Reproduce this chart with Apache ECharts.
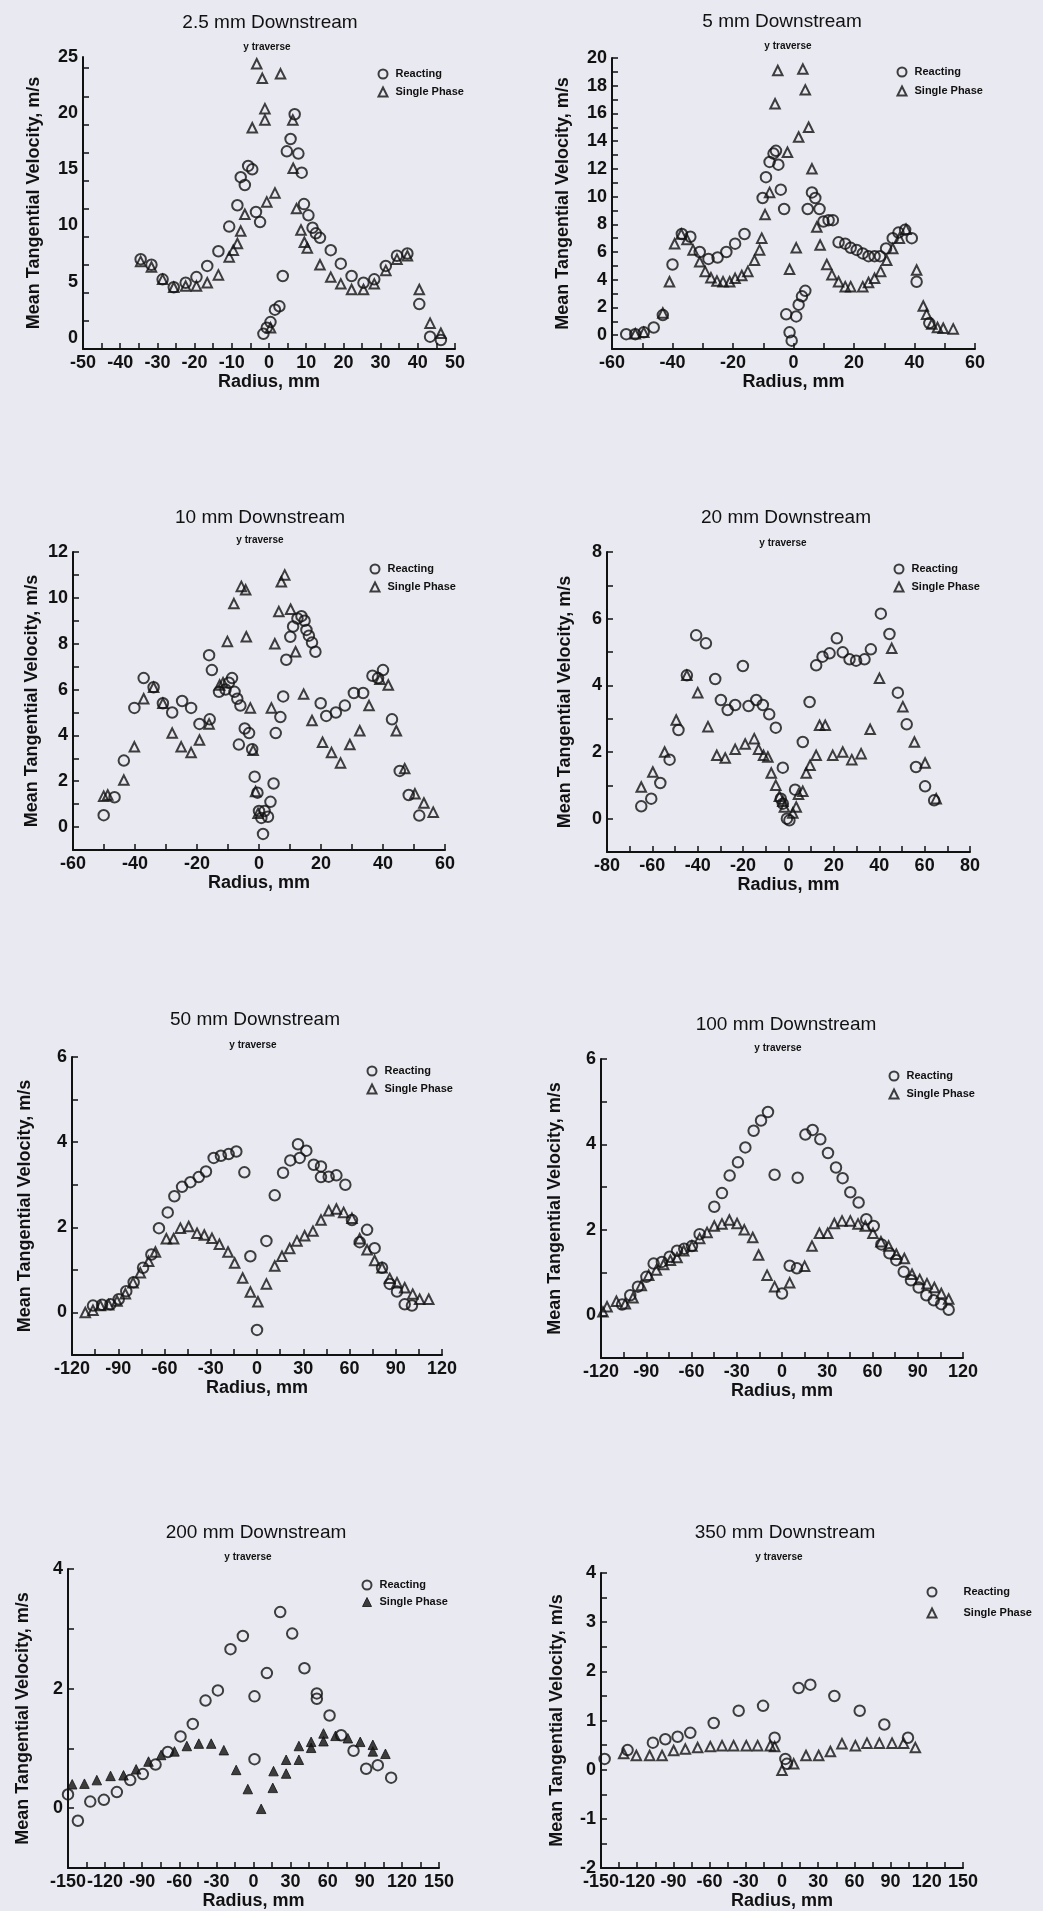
<!DOCTYPE html>
<html>
<head>
<meta charset="utf-8">
<title>Mean Tangential Velocity profiles</title>
<script src="https://cdn.jsdelivr.net/npm/echarts@6/dist/echarts.min.js"></script>
<style>
  html, body { margin: 0; padding: 0; background: #e9e9f1; }
  #chart { width: 1043px; height: 1911px; }
</style>
</head>
<body>
<div id="chart"></div>
<script>
// ---- values: [radius mm, velocity m/s] ----
var reacting_2_5 = [[-34.5,7.0],[-31.6,6.5],[-28.6,5.2],[-25.6,4.5],[-22.4,4.9],[-19.5,5.4],[-16.6,6.4],[-13.6,7.7],[-10.7,9.9],[-8.5,11.8],[-7.6,14.3],[-6.5,13.6],[-5.6,15.3],[-4.5,15.0],[-3.5,11.2],[-2.4,10.3],[-1.5,0.35],[-0.6,0.9],[0.4,1.4],[1.6,2.5],[2.8,2.8],[3.7,5.5],[4.8,16.6],[5.8,17.7],[6.9,19.9],[7.9,16.4],[8.8,14.7],[9.4,11.9],[10.6,10.9],[11.7,9.8],[12.6,9.3],[13.7,8.9],[16.6,7.8],[19.3,6.6],[22.2,5.5],[25.4,4.9],[28.3,5.2],[31.4,6.4],[34.4,7.3],[37.2,7.5],[40.4,3.0],[43.3,0.1],[46.2,-0.2]];
var single_2_5 = [[-34.5,6.8],[-31.6,6.3],[-28.6,5.2],[-25.6,4.5],[-22.4,4.6],[-19.5,4.6],[-16.6,4.9],[-13.6,5.6],[-10.7,7.2],[-9.6,7.8],[-8.5,8.4],[-7.6,9.5],[-6.5,11.0],[-4.5,18.7],[-3.3,24.4],[-1.8,23.1],[-1.1,20.4],[-1.1,19.4],[-0.6,12.1],[0.4,0.9],[1.6,12.9],[3.1,23.5],[6.4,19.4],[6.5,15.1],[7.4,11.5],[8.6,9.6],[9.5,8.5],[10.3,8.0],[13.7,6.5],[16.6,5.4],[19.3,4.8],[22.2,4.3],[25.4,4.3],[28.3,4.8],[31.4,6.0],[34.4,7.0],[37.2,7.3],[40.4,4.3],[43.3,1.3],[46.2,0.4]];

var reacting_5 = [[-55.3,0.07],[-52.3,0.07],[-49.5,0.2],[-46.2,0.55],[-43.2,1.45],[-40.0,5.1],[-36.9,7.3],[-34.1,7.1],[-31.0,6.0],[-28.1,5.5],[-25.1,5.6],[-22.2,6.0],[-19.3,6.6],[-16.2,7.3],[-10.2,9.9],[-9.1,11.4],[-7.9,12.5],[-6.6,13.1],[-5.8,13.3],[-5.0,12.3],[-4.2,10.5],[-3.1,9.1],[-2.4,1.5],[-1.3,0.2],[-0.6,-0.4],[0.9,1.35],[1.7,2.2],[2.8,2.8],[3.9,3.2],[4.7,9.1],[6.1,10.3],[7.2,9.9],[8.6,9.1],[9.9,8.2],[11.6,8.3],[13.0,8.3],[14.9,6.7],[17.1,6.6],[18.9,6.3],[20.9,6.15],[22.9,5.9],[24.8,5.7],[26.8,5.7],[28.6,5.7],[30.6,6.25],[32.8,7.0],[34.7,7.4],[36.9,7.6],[39.1,7.0],[40.7,3.85],[44.9,0.87]];
var single_5 = [[-52.3,0.1],[-49.5,0.2],[-43.2,1.6],[-41.0,3.85],[-39.3,6.6],[-37.1,7.3],[-35.2,6.9],[-33.2,6.15],[-31.0,5.3],[-29.2,4.6],[-27.3,4.15],[-25.3,3.9],[-23.3,3.85],[-21.1,3.85],[-19.3,4.1],[-17.1,4.3],[-15.1,4.6],[-12.9,5.4],[-11.2,6.15],[-10.5,7.0],[-9.4,8.7],[-7.9,10.3],[-6.1,16.7],[-5.2,19.1],[-2.0,13.2],[-1.3,4.75],[0.9,6.3],[1.7,14.3],[3.1,19.2],[3.9,17.7],[5.0,15.0],[6.1,12.0],[7.7,7.8],[8.8,6.5],[11.0,5.1],[12.7,4.35],[14.9,3.85],[17.1,3.5],[18.9,3.5],[22.9,3.5],[24.8,3.8],[26.8,4.1],[28.8,4.6],[30.8,5.4],[32.8,6.25],[35.0,7.0],[37.2,7.65],[40.7,4.7],[42.9,2.1],[44.0,1.5],[45.7,0.8],[47.6,0.55],[49.5,0.5],[52.8,0.45]];

var reacting_10 = [[-50.1,0.52],[-46.6,1.3],[-43.6,2.9],[-40.2,5.2],[-37.2,6.5],[-34.0,6.1],[-31.0,5.4],[-28.0,5.0],[-24.8,5.5],[-21.9,5.2],[-19.2,4.5],[-15.9,4.7],[-16.1,7.5],[-15.2,6.85],[-12.9,5.9],[-10.8,6.0],[-9.7,6.3],[-8.7,6.5],[-7.9,5.9],[-7.0,5.6],[-6.0,5.3],[-4.6,4.3],[-6.5,3.6],[-3.2,4.1],[-2.2,3.4],[-1.4,2.2],[-0.5,1.5],[0.0,0.7],[0.75,0.4],[1.3,-0.3],[1.8,0.7],[2.9,0.45],[3.7,1.1],[4.7,1.9],[5.4,4.1],[6.9,4.8],[7.8,5.7],[8.8,7.3],[10.1,8.3],[11.0,8.75],[12.4,9.1],[13.7,9.2],[14.7,9.0],[15.3,8.6],[16.1,8.35],[17.1,8.05],[18.2,7.65],[19.9,5.4],[21.7,4.85],[24.8,5.0],[27.7,5.3],[30.6,5.85],[33.6,5.85],[36.6,6.6],[38.4,6.5],[40.0,6.85],[42.9,4.7],[45.4,2.45],[48.3,1.4],[51.7,0.5]];
var single_10 = [[-50.1,1.35],[-48.8,1.4],[-43.6,2.05],[-40.2,3.5],[-37.2,5.6],[-34.0,6.1],[-31.0,5.4],[-28.0,4.1],[-25.1,3.5],[-21.9,3.25],[-19.2,3.8],[-16.1,4.5],[-12.7,6.2],[-11.6,6.3],[-10.2,8.1],[-8.1,9.75],[-5.7,10.5],[-4.3,10.35],[-4.1,8.3],[-2.8,5.2],[-1.9,3.35],[-1.1,1.55],[-0.3,0.6],[4.0,5.2],[5.1,8.0],[6.4,9.4],[7.2,10.7],[8.3,11.0],[10.2,9.5],[11.8,7.65],[14.4,5.8],[17.1,4.65],[20.5,3.7],[23.4,3.25],[26.3,2.8],[29.3,3.6],[32.5,4.2],[35.5,5.3],[39.0,6.45],[41.7,6.2],[44.3,4.2],[47.0,2.55],[50.3,1.45],[53.2,1.05],[56.2,0.65]];

var reacting_20 = [[-64.9,0.37],[-60.5,0.6],[-56.5,1.07],[-52.4,1.77],[-48.5,2.66],[-44.8,4.3],[-40.7,5.5],[-36.4,5.26],[-32.3,4.19],[-29.8,3.56],[-26.8,3.26],[-23.5,3.41],[-20.1,4.58],[-17.6,3.38],[-14.2,3.56],[-11.3,3.41],[-8.5,3.13],[-5.6,2.73],[-2.5,1.53],[-3.4,0.6],[-2.5,0.45],[-0.7,0.0],[0.4,-0.05],[2.9,0.87],[6.3,2.3],[9.3,3.5],[12.2,4.6],[15.0,4.86],[18.1,4.96],[21.3,5.41],[23.9,4.99],[26.9,4.78],[29.8,4.74],[33.5,4.78],[36.3,5.08],[40.7,6.15],[44.5,5.54],[48.2,3.78],[52.1,2.83],[56.2,1.55],[60.2,0.97],[64.2,0.55]];
var single_20 = [[-64.9,0.95],[-59.8,1.4],[-54.6,2.0],[-49.5,2.96],[-44.8,4.3],[-40.0,3.78],[-35.5,2.76],[-31.6,1.9],[-27.9,1.82],[-23.5,2.08],[-19.1,2.24],[-15.1,2.4],[-13.2,2.08],[-11.0,1.9],[-9.1,1.85],[-7.6,1.37],[-5.6,1.0],[-4.0,0.67],[-2.5,0.52],[-1.8,0.35],[1.9,0.17],[3.4,0.35],[4.4,0.73],[6.3,0.82],[7.8,1.37],[9.5,1.6],[12.2,1.9],[13.7,2.8],[16.2,2.8],[19.5,1.9],[23.9,2.0],[27.9,1.77],[32.0,1.95],[36.0,2.68],[40.1,4.21],[45.5,5.11],[50.4,3.36],[55.5,2.3],[60.2,1.67],[65.1,0.6]];

var reacting_50 = [[-106.4,0.16],[-100.5,0.18],[-95.1,0.19],[-89.7,0.31],[-84.8,0.5],[-80.0,0.71],[-73.9,1.05],[-68.5,1.36],[-63.6,1.98],[-57.9,2.35],[-53.6,2.73],[-48.6,2.95],[-43.2,3.06],[-37.8,3.18],[-33.1,3.31],[-28.1,3.63],[-23.4,3.68],[-18.4,3.72],[-13.4,3.78],[-8.2,3.29],[-4.3,1.32],[0.0,-0.41],[6.1,1.68],[11.5,2.75],[16.9,3.28],[21.6,3.57],[26.6,3.95],[27.7,3.63],[32.0,3.8],[36.8,3.47],[41.5,3.43],[41.5,3.18],[46.5,3.19],[51.5,3.22],[57.3,3.0],[61.6,2.17],[66.6,1.65],[71.4,1.94],[76.3,1.51],[81.1,1.05],[86.1,0.67],[90.8,0.49],[95.8,0.19],[100.5,0.16]];
var single_50 = [[-111.4,0.0],[-106.4,0.05],[-101.6,0.16],[-96.2,0.18],[-90.8,0.27],[-85.4,0.44],[-80.4,0.7],[-75.7,0.93],[-70.3,1.2],[-65.9,1.42],[-58.8,1.73],[-54.1,1.73],[-49.7,1.98],[-44.3,2.02],[-38.9,1.86],[-34.2,1.82],[-29.2,1.74],[-24.4,1.6],[-18.8,1.42],[-14.5,1.16],[-9.3,0.81],[-4.3,0.48],[0.6,0.25],[6.1,0.67],[11.5,1.09],[16.2,1.32],[21.2,1.5],[25.9,1.68],[30.9,1.8],[36.3,1.91],[41.5,2.17],[46.5,2.39],[51.5,2.43],[56.2,2.35],[61.6,2.21],[66.6,1.73],[71.4,1.47],[76.3,1.22],[81.1,1.05],[86.1,0.8],[90.8,0.7],[95.8,0.58],[101.0,0.43],[105.5,0.31],[111.4,0.31]];

var reacting_100 = [[-106.0,0.25],[-100.6,0.47],[-95.5,0.67],[-89.9,0.9],[-85.1,1.21],[-79.6,1.25],[-74.5,1.37],[-69.6,1.51],[-64.8,1.56],[-59.7,1.62],[-54.6,1.9],[-44.9,2.54],[-39.8,2.86],[-34.7,3.27],[-29.2,3.58],[-24.3,3.93],[-18.8,4.32],[-13.9,4.56],[-9.3,4.76],[-4.9,3.29],[0.0,0.51],[5.1,1.16],[9.9,1.1],[10.4,3.22],[15.5,4.23],[20.3,4.34],[25.4,4.12],[30.5,3.8],[35.8,3.46],[40.2,3.21],[45.3,2.88],[50.8,2.64],[55.9,2.25],[60.8,2.09],[65.9,1.66],[71.2,1.45],[75.8,1.29],[80.7,1.02],[85.5,0.82],[90.6,0.65],[95.7,0.47],[100.6,0.35],[105.6,0.26],[110.5,0.13]];
var single_100 = [[-118.7,0.08],[-116.0,0.2],[-109.8,0.33],[-103.9,0.27],[-98.8,0.41],[-93.3,0.7],[-88.4,0.94],[-83.3,1.06],[-78.5,1.19],[-74.0,1.29],[-69.6,1.35],[-65.2,1.51],[-59.7,1.62],[-54.6,1.8],[-49.7,1.94],[-44.9,2.09],[-39.8,2.14],[-34.9,2.23],[-29.8,2.15],[-25.0,2.0],[-19.4,1.82],[-15.5,1.41],[-9.9,0.94],[-4.9,0.67],[5.1,0.76],[15.0,1.15],[19.9,1.62],[24.8,1.92],[30.3,1.92],[34.7,2.15],[39.8,2.21],[45.3,2.21],[50.4,2.14],[55.2,2.09],[60.3,1.92],[65.6,1.72],[70.7,1.62],[75.8,1.43],[81.1,1.33],[86.2,0.96],[91.3,0.84],[96.1,0.74],[101.0,0.65],[105.6,0.51],[110.5,0.38]];

var reacting_200 = [[-150,0.23],[-142,-0.21],[-132,0.11],[-121,0.14],[-110.5,0.27],[-99.7,0.47],[-89.5,0.57],[-79.2,0.73],[-69.3,0.94],[-59.0,1.2],[-49.1,1.41],[-38.8,1.8],[-28.8,1.97],[-18.6,2.66],[-8.6,2.88],[0.8,1.87],[0.8,0.82],[10.8,2.26],[21.6,3.28],[31.3,2.92],[41.2,2.34],[51.2,1.92],[51.2,1.83],[61.5,1.55],[70.9,1.22],[80.9,0.96],[91.1,0.66],[100.5,0.72],[111.3,0.51]];
var single_200 = [[-146.6,0.4],[-136.7,0.41],[-126.7,0.47],[-115.6,0.54],[-105.1,0.55],[-94.9,0.65],[-84.9,0.78],[-74.7,0.89],[-63.9,0.95],[-53.9,1.04],[-44.2,1.08],[-34.2,1.08],[-24.0,0.97],[-14.0,0.64],[-4.6,0.32],[6.2,-0.01],[15.6,0.34],[16.2,0.62],[26.4,0.81],[26.4,0.58],[36.7,0.81],[36.7,1.04],[46.6,1.01],[46.6,1.11],[56.6,1.12],[56.6,1.25],[66.3,1.21],[76.3,1.17],[86.3,1.11],[96.5,1.06],[96.5,0.95],[106.7,0.91]];

var reacting_350 = [[-147,0.22],[-128,0.4],[-107,0.55],[-96.7,0.62],[-86.5,0.67],[-76,0.75],[-56.6,0.95],[-35.9,1.2],[-15.7,1.3],[-6.1,0.65],[2.8,0.22],[4.1,0.12],[13.8,1.66],[23.5,1.73],[43.4,1.5],[64.4,1.2],[84.8,0.92],[104.4,0.65]];
var single_350 = [[-131.2,0.33],[-120.7,0.29],[-109.7,0.29],[-99.4,0.29],[-89.8,0.39],[-80.1,0.42],[-69.9,0.45],[-59.4,0.47],[-49.7,0.49],[-40.1,0.49],[-29.6,0.49],[-20.2,0.49],[-9.7,0.49],[-6.1,0.47],[0.0,-0.01],[9.7,0.12],[19.9,0.29],[30.4,0.29],[40.1,0.37],[49.7,0.53],[60.8,0.49],[70.4,0.54],[80.7,0.54],[91.2,0.54],[100.8,0.54],[110.5,0.45]];

// ---- tick labels ----
var xLabels_2_5 = [-50,-40,-30,-20,-10,0,10,20,30,40,50];
var xLabels_5 = [-60,-40,-20,0,20,40,60];
var xLabels_10 = [-60,-40,-20,0,20,40,60];
var xLabels_20 = [-80,-60,-40,-20,0,20,40,60,80];
var xLabels_120 = [-120,-90,-60,-30,0,30,60,90,120];
var xLabels_150 = [-150,-120,-90,-60,-30,0,30,60,90,120,150];
var yLabels_2_5 = [0,5,10,15,20,25];
var yLabels_5 = [0,2,4,6,8,10,12,14,16,18,20];
var yLabels_10 = [0,2,4,6,8,10,12];
var yLabels_20 = [0,2,4,6,8];
var yLabels_50 = [0,2,4,6];
var yLabels_200 = [0,2,4];
var yLabels_350 = [-2,-1,0,1,2,3,4];

var INK = '#111';
var FONT = '"Liberation Sans", Arial, Helvetica, sans-serif';

// tick marks (major + minor) between two ends
function steps(a, b, s) {
  var out = [];
  for (var v = a; v <= b + 1e-9; v += s) out.push(+v.toFixed(4));
  return out;
}

var panels = [
  { title: '2.5 mm Downstream', r: reacting_2_5, s: single_2_5, xr: [-50, 50], xl: xLabels_2_5, xs: 5,
    yr: [-1, 25], yl: yLabels_2_5, ys: 2.5, box: [83, 57, 372, 292], t: [270, 23], tr: [267, 47],
    lg: [382, 75], lgGap: 20, lgPad: 3, yGap: 40, filled: false },
  { title: '5 mm Downstream', r: reacting_5, s: single_5, xr: [-60, 60], xl: xLabels_5, xs: 10,
    yr: [-1, 20], yl: yLabels_5, ys: 1, box: [612, 58, 363, 291], t: [782, 22], tr: [788, 46],
    lg: [901, 73], lgGap: 21, lgPad: 3, yGap: 40, filled: false },
  { title: '10 mm Downstream', r: reacting_10, s: single_10, xr: [-60, 60], xl: xLabels_10, xs: 10,
    yr: [-1, 12], yl: yLabels_10, ys: 1, box: [73, 552, 372, 298], t: [260, 518], tr: [260, 540],
    lg: [374, 570], lgGap: 20, lgPad: 3, yGap: 32, filled: false },
  { title: '20 mm Downstream', r: reacting_20, s: single_20, xr: [-80, 80], xl: xLabels_20, xs: 10,
    yr: [-1, 8], yl: yLabels_20, ys: 1, box: [607, 552, 363, 300], t: [786, 518], tr: [783, 543],
    lg: [898, 570], lgGap: 20, lgPad: 3, yGap: 33, filled: false },
  { title: '50 mm Downstream', r: reacting_50, s: single_50, xr: [-120, 120], xl: xLabels_120, xs: 15,
    yr: [-1, 6], yl: yLabels_50, ys: 1, box: [72, 1057, 370, 298], t: [255, 1020], tr: [253, 1045],
    lg: [371, 1072], lgGap: 20, lgPad: 3, yGap: 38, filled: false },
  { title: '100 mm Downstream', r: reacting_100, s: single_100, xr: [-120, 120], xl: xLabels_120, xs: 15,
    yr: [-1, 6], yl: yLabels_50, ys: 1, box: [601, 1059, 362, 299], t: [786, 1025], tr: [778, 1048],
    lg: [893, 1077], lgGap: 20, lgPad: 3, yGap: 37, filled: false },
  { title: '200 mm Downstream', r: reacting_200, s: single_200, xr: [-150, 150], xl: xLabels_150, xs: 15,
    yr: [-1, 4], yl: yLabels_200, ys: 1, box: [68, 1569, 371, 299], t: [256, 1533], tr: [248, 1557],
    lg: [366, 1586], lgGap: 19, lgPad: 3, yGap: 36, filled: true },
  { title: '350 mm Downstream', r: reacting_350, s: single_350, xr: [-150, 150], xl: xLabels_150, xs: 15,
    yr: [-2, 4], yl: yLabels_350, ys: 0.5, box: [601, 1573, 362, 300], t: [785, 1533], tr: [779, 1557],
    lg: [931, 1593], lgGap: 23, lgPad: 22, yGap: 35, filled: false }
];

var grids = [], xAxes = [], yAxes = [], series = [], legends = [], graphics = [];
var open = { color: 'rgba(0,0,0,0)', borderColor: INK, borderWidth: 2 };

panels.forEach(function (p, i) {
  grids.push({ left: p.box[0], top: p.box[1], width: p.box[2], height: p.box[3] });

  var axisLine = { onZero: false, lineStyle: { color: INK, width: 2 } };
  var tickStyle = { color: INK, width: 1.5 };
  var lblStyle = { color: INK, fontFamily: FONT, fontSize: 18, fontWeight: 'bold', margin: 5 };
  var nameStyle = { color: INK, fontFamily: FONT, fontSize: 18, fontWeight: 'bold' };

  xAxes.push({
    gridIndex: i, type: 'value', min: p.xr[0], max: p.xr[1],
    axisLine: axisLine, splitLine: { show: false },
    axisTick: { inside: true, length: 6, lineStyle: tickStyle, customValues: steps(p.xr[0], p.xr[1], p.xs) },
    axisLabel: Object.assign({ customValues: p.xl }, lblStyle),
    name: 'Radius, mm', nameLocation: 'middle', nameGap: 20, nameTextStyle: nameStyle
  });
  yAxes.push({
    gridIndex: i, type: 'value', min: p.yr[0], max: p.yr[1],
    axisLine: axisLine, splitLine: { show: false },
    axisTick: { inside: true, length: 6, lineStyle: tickStyle, customValues: steps(p.yr[0], p.yr[1], p.ys) },
    axisLabel: Object.assign({ customValues: p.yl }, lblStyle),
    name: 'Mean Tangential Velocity, m/s', nameLocation: 'middle', nameRotate: 90,
    nameGap: p.yGap, nameTextStyle: nameStyle
  });

  var triStyle = p.filled ? { color: INK, borderColor: INK, borderWidth: 1 } : open;
  series.push({
    type: 'scatter', name: 'Reacting', xAxisIndex: i, yAxisIndex: i, data: p.r,
    symbol: 'circle', symbolSize: 10.5, clip: false, itemStyle: open, emphasis: { disabled: true }
  });
  series.push({
    type: 'scatter', name: 'Single Phase', xAxisIndex: i, yAxisIndex: i, data: p.s,
    symbol: 'triangle', symbolSize: 9.5, clip: false, itemStyle: triStyle, emphasis: { disabled: true }
  });

  legends.push({
    left: p.lg[0] - 4.5, top: p.lg[1] - 6.5, orient: 'vertical', padding: 0,
    itemWidth: 9, itemHeight: 9, itemGap: p.lgGap - 13, selectedMode: false,
    textStyle: { color: INK, fontFamily: FONT, fontSize: 11, fontWeight: 'bold', padding: [0, 0, 0, p.lgPad] },
    data: [
      { name: 'Reacting', icon: 'circle', itemStyle: open },
      { name: 'Single Phase', icon: 'triangle', itemStyle: triStyle }
    ]
  });

  graphics.push({
    type: 'text', x: p.t[0], y: p.t[1], silent: true,
    style: { text: p.title, fill: INK, fontFamily: FONT, fontSize: 19, align: 'center', verticalAlign: 'middle' }
  });
  graphics.push({
    type: 'text', x: p.tr[0], y: p.tr[1], silent: true,
    style: { text: 'y traverse', fill: INK, fontFamily: FONT, fontSize: 10, fontWeight: 'bold', align: 'center', verticalAlign: 'middle' }
  });
});

var chart = echarts.init(document.getElementById('chart'));
chart.setOption({
  backgroundColor: '#e9e9f1',
  animation: false,
  grid: grids,
  xAxis: xAxes,
  yAxis: yAxes,
  legend: legends,
  series: series,
  graphic: graphics
});
</script>
</body>
</html>
